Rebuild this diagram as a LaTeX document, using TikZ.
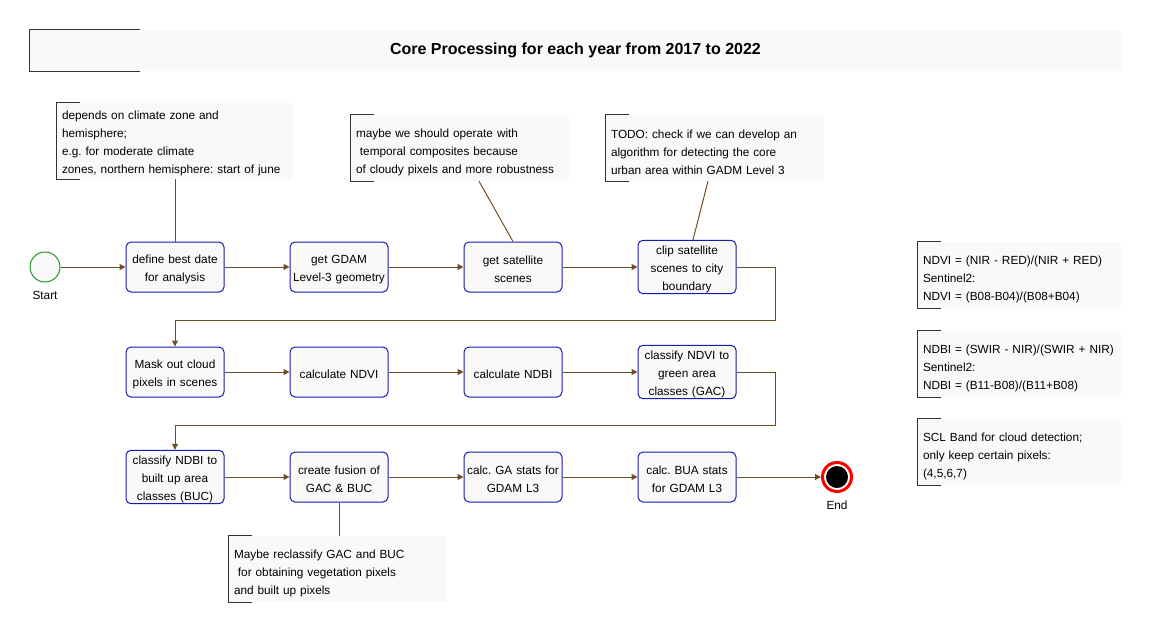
\documentclass[tikz,border=0pt]{standalone}
\usepackage{fontspec}
\setmainfont{Liberation Sans}
\frenchspacing
\usetikzlibrary{positioning, arrows.meta, calc}
\definecolor{boxgray}{HTML}{F9F9F9}
\definecolor{procblue}{RGB}{25,25,175}
\definecolor{flowbrown}{RGB}{110,78,36}
\definecolor{startgreen}{RGB}{40,150,40}
\definecolor{brkgray}{HTML}{333333}
\tikzset{
  proc/.style   = {draw=procblue, fill=boxgray, rounded corners=5pt, line width=1pt,
                   minimum width=98pt, minimum height=50pt, align=center,
                   inner xsep=1pt, inner ysep=1pt, text width=96pt, text height=13pt,
                   font=\fontsize{11.8}{18}\selectfont},
  note/.style   = {fill=boxgray, align=left, inner xsep=5pt, inner ysep=1pt,
                   text width=#1, text height=17pt, font=\fontsize{11.8}{18}\selectfont},
  brk/.style    = {draw=brkgray, line width=0.9pt},
  flow/.style   = {-{Triangle[length=6pt, width=6pt]}, draw=flowbrown, line width=1pt},
  nline/.style  = {draw=flowbrown, line width=1pt},
  lbl/.style    = {font=\fontsize{11.8}{13}\selectfont},
  startev/.style= {circle, draw=startgreen, fill=boxgray, line width=1pt, minimum size=30pt, inner sep=0pt},
  endev/.style  = {circle, draw=red, fill=white, line width=3pt, minimum size=29pt, inner sep=0pt},
}

\begin{document}
\begin{tikzpicture}[x=1pt, y=-1pt]
  \useasboundingbox (0,0) rectangle (1152,633);

  % title
  \node[fill=boxgray, minimum width=1091pt, minimum height=41pt, inner sep=0pt,
        font=\fontsize{16}{18}\selectfont\bfseries] (title) at (575.5,50.5)
        {Core Processing for each year from 2017 to 2022};
  \draw[brk] ($(title.north west)+(110,0)$) -| (title.south west) -- ++(110,0);

  % events
  \node[startev] (start) at (45,267) {};
  \node[lbl] (startlbl) at (45,295) {Start};
  \node[endev] (finish) at (837,477) {};
  \node[circle, fill=black, minimum size=22pt, inner sep=0pt] (finishdot) at (finish) {};
  \node[lbl] (endlbl) at (837,505) {End};

  % row 1
  \node[proc] (best)   at (175,267) {define best date\\for analysis};
  \node[proc] (gadm)   at (339,267) {get GDAM\\Level-3 geometry};
  \node[proc] (scenes) at (513,267) {get satellite\\scenes};
  \node[proc] (clip)   at (687,267) {clip satellite\\scenes to city\\boundary};
  % row 2
  \node[proc] (mask)   at (175,372) {Mask out cloud\\pixels in scenes};
  \node[proc] (ndvi)   at (339,372) {calculate NDVI};
  \node[proc] (ndbi)   at (513,372) {calculate NDBI};
  \node[proc] (gac)    at (687,372) {classify NDVI to\\green area\\classes (GAC)};
  % row 3
  \node[proc] (buc)    at (175,477) {classify NDBI to\\built up area\\classes (BUC)};
  \node[proc] (fusion) at (339,477) {create fusion of\\GAC \& BUC};
  \node[proc] (gastat) at (513,477) {calc. GA stats for\\GDAM L3};
  \node[proc] (buastat) at (687,477) {calc. BUA stats\\for GDAM L3};

  % notes
  \node[note=226pt, minimum height=76pt, text height=13pt] (nt1) at (175,141)
    {depends on climate zone and\\hemisphere;\\e.g. for moderate climate\\zones, northern hemisphere: start of june};
  \node[note=208pt, minimum height=66pt] (nt2) at (460,148)
    {maybe we should operate with\\\ temporal composites because\\of cloudy pixels and more robustness};
  \node[note=208pt, minimum height=66pt] (nt3) at (715,148)
    {TODO: check if we can develop an\\algorithm for detecting the core\\urban area within GADM Level 3};
  \node[note=208pt, minimum height=66pt] (nt4) at (338,569)
    {Maybe reclassify GAC and BUC\\\ for obtaining vegetation pixels\\and built up pixels};
  \node[note=193pt, minimum height=66pt] (ntA) at (1019.5,275)
    {NDVI = (NIR - RED)/(NIR + RED)\\Sentinel2:\\NDVI = (B08-B04)/(B08+B04)};
  \node[note=193pt, minimum height=66pt] (ntB) at (1019.5,364)
    {NDBI = (SWIR - NIR)/(SWIR + NIR)\\Sentinel2:\\NDBI = (B11-B08)/(B11+B08)};
  \node[note=193pt, minimum height=66pt] (ntC) at (1019.5,452)
    {SCL Band for cloud detection;\\only keep certain pixels:\\(4,5,6,7)};
  \foreach \n in {nt1,nt2,nt3,nt4,ntA,ntB,ntC}
    \draw[brk] ($(\n.north west)+(23,0)$) -| (\n.south west) -- ++(23,0);

  % flow
  \coordinate (turn1) at (775,320);
  \coordinate (turn2) at (775,425);
  \draw[flow] (start) -- (best);
  \draw[flow] (best) -- (gadm);
  \draw[flow] (gadm) -- (scenes);
  \draw[flow] (scenes) -- (clip);
  \draw[flow] (clip.east) -| (turn1) -| (mask.north);
  \draw[flow] (mask) -- (ndvi);
  \draw[flow] (ndvi) -- (ndbi);
  \draw[flow] (ndbi) -- (gac);
  \draw[flow] (gac.east) -| (turn2) -| (buc.north);
  \draw[flow] (buc) -- (fusion);
  \draw[flow] (fusion) -- (gastat);
  \draw[flow] (gastat) -- (buastat);
  \draw[flow] (buastat) -- (finish);

  % note links
  \draw[nline] (nt1.south) -- (best.north);
  \draw[nline] ([xshift=19pt]nt2.south) -- (scenes.north);
  \draw[nline] ([xshift=-7pt]nt3.south) -- ([xshift=6pt]clip.north);
  \draw[nline] (fusion.south) -- (fusion.south |- nt4.north);
\end{tikzpicture}
\end{document}
